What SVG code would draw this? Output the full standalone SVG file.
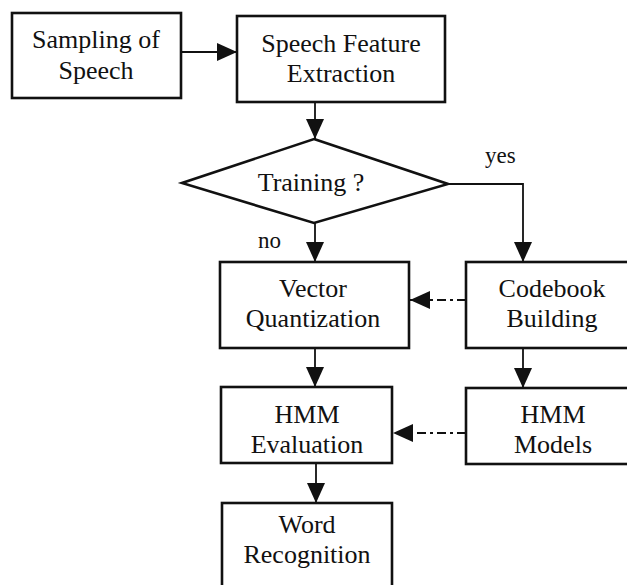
<svg xmlns="http://www.w3.org/2000/svg" width="627" height="585" viewBox="0 0 627 585">
<defs>
<style>
.box{fill:#fff;stroke:#111;stroke-width:2.6}
.t{font-family:"Liberation Serif","Times New Roman",serif;font-size:26px;fill:#111;text-anchor:middle}
.lbl{font-family:"Liberation Serif","Times New Roman",serif;font-size:23px;fill:#111}
.c{fill:none;stroke:#111;stroke-width:1.8}
.d{fill:none;stroke:#111;stroke-width:1.8;stroke-dasharray:9 4 3 4}
</style>
<marker id="ah" viewBox="0 0 20 20" refX="20" refY="10" markerWidth="20" markerHeight="20" markerUnits="userSpaceOnUse" orient="auto">
<path d="M0,1 L20,10 L0,19 Z" fill="#111"/>
</marker>
</defs>
<rect width="627" height="585" fill="#fff"/>
<g id="connectors">
<line class="c" x1="181" y1="52" x2="237" y2="52" marker-end="url(#ah)"/>
<line class="c" x1="315" y1="102" x2="315" y2="139" marker-end="url(#ah)"/>
<line class="c" x1="315" y1="223" x2="315" y2="262" marker-end="url(#ah)"/>
<polyline class="c" points="448,184 523,184 523,262" marker-end="url(#ah)"/>
<line class="d" x1="466" y1="300" x2="410" y2="300" marker-end="url(#ah)"/>
<line class="c" x1="315" y1="348" x2="315" y2="387" marker-end="url(#ah)"/>
<line class="c" x1="523" y1="348" x2="523" y2="388" marker-end="url(#ah)"/>
<line class="d" x1="466" y1="433" x2="393" y2="433" marker-end="url(#ah)"/>
<line class="c" x1="316" y1="463" x2="316" y2="503" marker-end="url(#ah)"/>
</g>
<g id="sampling">
<rect class="box" x="12" y="13" width="169" height="85"/>
<text class="t" x="96" y="48">Sampling of</text>
<text class="t" x="96" y="79">Speech</text>
</g>
<g id="feature">
<rect class="box" x="237" y="16" width="208" height="86"/>
<text class="t" x="341" y="52">Speech Feature</text>
<text class="t" x="341" y="82">Extraction</text>
</g>
<g id="training">
<polygon class="box" points="314,139 448,184 314,223 182,183"/>
<text class="t" x="311" y="191">Training ?</text>
</g>
<text class="lbl" x="258" y="248">no</text>
<text class="lbl" x="485" y="163">yes</text>
<g id="vq">
<rect class="box" x="220" y="262" width="189" height="86"/>
<text class="t" x="313" y="297">Vector</text>
<text class="t" x="313" y="327">Quantization</text>
</g>
<g id="codebook">
<rect class="box" x="466" y="262" width="180" height="86"/>
<text class="t" x="552" y="297">Codebook</text>
<text class="t" x="552" y="327">Building</text>
</g>
<g id="hmmeval">
<rect class="box" x="221" y="387" width="171" height="76"/>
<text class="t" x="307" y="423">HMM</text>
<text class="t" x="307" y="453">Evaluation</text>
</g>
<g id="hmmmodels">
<rect class="box" x="466" y="388" width="180" height="76"/>
<text class="t" x="553" y="423">HMM</text>
<text class="t" x="553" y="453">Models</text>
</g>
<g id="word">
<rect class="box" x="222" y="503" width="170" height="100"/>
<text class="t" x="307" y="533">Word</text>
<text class="t" x="307" y="563">Recognition</text>
</g>
</svg>
